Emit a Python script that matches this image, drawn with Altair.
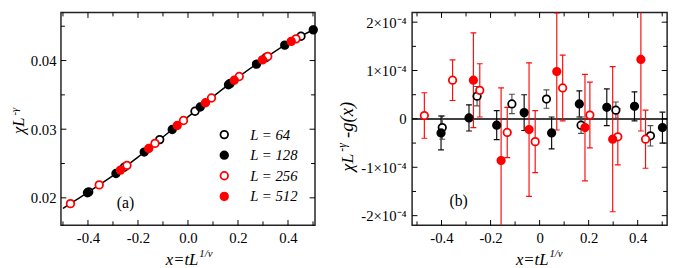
import altair as alt
import pandas as pd

FONT = "Liberation Serif"
RED = "#ff0000"

# ---------------- data ----------------
sizes = ["64", "128", "256", "512"]

# fitted scaling curve g(x), panel (a)
curve_x = [-0.5, -0.4, -0.3, -0.2, -0.1, 0.0, 0.1, 0.2, 0.3, 0.4, 0.5]
curve_y = [0.01845, 0.02080, 0.02323, 0.02593, 0.02887, 0.03180,
           0.03473, 0.03755, 0.04015, 0.04255, 0.04445]

# x = t L^(1/nu) for each system size
x64 = [-0.397, -0.255, -0.113, 0.028, 0.169, 0.311, 0.452]
x128 = [-0.402, -0.288, -0.175, -0.063, 0.049, 0.162, 0.274, 0.387, 0.501]
x256 = [-0.470, -0.355, -0.244, -0.132, -0.018, 0.094, 0.205, 0.319, 0.432]
x512 = [-0.270, -0.157, -0.043, 0.070, 0.185, 0.298, 0.413]

# chi L^-gamma, panel (a)
y64 = [0.02087, 0.02445, 0.02849, 0.03262, 0.03668, 0.04041, 0.04354]
y128 = [0.02075, 0.02355, 0.02667, 0.02995, 0.03324, 0.03648, 0.03947, 0.04224, 0.04447]
y256 = [0.01916, 0.02189, 0.02474, 0.02793, 0.03127, 0.03455, 0.03768, 0.04060, 0.04316]
y512 = [0.02404, 0.02719, 0.03054, 0.03385, 0.03713, 0.04010, 0.04280]

# residuals chi L^-gamma - g(x) and their errors, panel (b), in units of 1e-4
r64 = [-0.18, 0.47, 0.31, 0.41, -0.13, 0.18, -0.35]
e64 = [0.24, 0.20, 0.20, 0.19, 0.17, 0.17, 0.21]
r128 = [-0.29, 0.02, -0.13, 0.13, -0.29, 0.31, 0.24, 0.26, -0.18]
e128 = [0.35, 0.27, 0.30, 0.37, 0.33, 0.27, 0.38, 0.30, 0.32]
r256 = [0.07, 0.80, 0.59, -0.28, -0.47, 0.64, 0.08, -0.37, -0.42]
e256 = [0.47, 0.42, 0.55, 0.52, 0.64, 0.68, 0.68, 0.58, 0.60]
r512 = [0.80, -0.86, -0.22, 0.98, -0.18, -0.42, 1.23]
e512 = [0.98, 1.50, 1.38, 1.21, 1.10, 1.50, 1.48]

# tick values
x_major = [-0.4, -0.2, 0.0, 0.2, 0.4]
x_minor = [-0.5, -0.3, -0.1, 0.1, 0.3, 0.5]
ya_major = [0.02, 0.03, 0.04]
ya_minor = [0.025, 0.035, 0.045]
yb_major = [-2, -1, 0, 1, 2]
yb_minor = [-1.5, -0.5, 0.5, 1.5]

# ---------------- tables ----------------
rows = []
for L, xs, ys, rs, es in [("64", x64, y64, r64, e64), ("128", x128, y128, r128, e128),
                          ("256", x256, y256, r256, e256), ("512", x512, y512, r512, e512)]:
    for xv, yv, rv, ev in zip(xs, ys, rs, es):
        rows.append({"L": L, "x": xv, "y": yv, "r": rv, "lo": rv - ev, "hi": rv + ev})
pts = pd.DataFrame(rows)
curve = pd.DataFrame({"x": curve_x, "y": curve_y})

W_A, W_B, H = 259, 260, 217

xs_a = alt.Scale(domain=[-0.508, 0.508], nice=False, zero=False)
ys_a = alt.Scale(domain=[0.016, 0.047], nice=False, zero=False)
xs_b = alt.Scale(domain=[-0.52, 0.52], nice=False, zero=False)
ys_b = alt.Scale(domain=[-2.2, 2.2], nice=False, zero=False)

stroke_scale = alt.Scale(domain=sizes, range=["black", "black", RED, RED])
fill_scale = alt.Scale(domain=sizes, range=["white", "black", "white", RED])
bar_scale = alt.Scale(domain=sizes, range=["#4a4a4a", "#000000", RED, RED])

lab = dict(labelFont=FONT, labelFontSize=15, labelColor="black", ticks=False,
           domain=False, grid=False, title=None)

x_axis_a = alt.Axis(values=x_major, labelPadding=6,
                    labelExpr="datum.value < 0 ? '-' + format(-datum.value, '.1f') : format(datum.value, '.1f')",
                    **lab)
y_axis_a = alt.Axis(values=ya_major, labelPadding=5, format=".2f", **lab)
x_axis_b = alt.Axis(values=x_major, labelPadding=6,
                    labelExpr="abs(datum.value) < 1e-9 ? '0' : (datum.value < 0 ? '-' + format(-datum.value, '.1f') : format(datum.value, '.1f'))",
                    **lab)
y_axis_b = alt.Axis(values=yb_major, labelPadding=6,
                    labelExpr="abs(datum.value) < 1e-9 ? '0' : (datum.value < 0 ? '-' : '') + format(abs(datum.value), 'd') + '×10⁻⁴'",
                    **lab)

legend = alt.Legend(title=None, orient="none", legendX=159, legendY=117, padding=0,
                    rowPadding=5, symbolType="circle", symbolSize=60, symbolStrokeWidth=1.8,
                    labelOffset=19, labelFont=FONT, labelFontSize=15, labelFontStyle="italic",
                    labelColor="black", labelExpr="'L = ' + datum.label")


def frame_ticks(xscale, yscale, xaxis, yaxis, xmaj, xmin, ymaj, ymin, w, h):
    layers = []
    for vals, ln in [(xmaj, 5.5), (xmin, 4)]:
        base = alt.Chart(pd.DataFrame({"v": vals})).mark_rule(color="black", strokeWidth=1)
        xx = alt.X("v:Q", scale=xscale, axis=xaxis)
        layers.append(base.encode(x=xx, y=alt.value(h), y2=alt.value(h - ln)))
        layers.append(base.encode(x=xx, y=alt.value(0), y2=alt.value(ln)))
    for vals, ln in [(ymaj, 5.5), (ymin, 4)]:
        base = alt.Chart(pd.DataFrame({"v": vals})).mark_rule(color="black", strokeWidth=1)
        yy = alt.Y("v:Q", scale=yscale, axis=yaxis)
        layers.append(base.encode(y=yy, x=alt.value(0), x2=alt.value(ln)))
        layers.append(base.encode(y=yy, x=alt.value(w), x2=alt.value(w - ln)))
    return layers


def txt(s, x, y, size, style="italic", angle=0, align="left"):
    return alt.Chart(pd.DataFrame({"a": [0]})).mark_text(
        text=s, font=FONT, fontSize=size, fontStyle=style, angle=angle, align=align,
        baseline="alphabetic", color="black").encode(x=alt.value(x), y=alt.value(y))


# ---------------- panel (a) ----------------
XA = lambda f: alt.X(f, scale=xs_a, axis=x_axis_a)
YA = lambda f: alt.Y(f, scale=ys_a, axis=y_axis_a)
line_a = alt.Chart(curve).mark_line(color="black", strokeWidth=1.5, interpolate="monotone").encode(
    x=XA("x:Q"), y=YA("y:Q"))
pts_a = alt.Chart(pts).mark_point(shape="circle", size=60, strokeWidth=1.8, opacity=1).encode(
    x=XA("x:Q"), y=YA("y:Q"),
    stroke=alt.Stroke("L:N", scale=stroke_scale, legend=legend),
    fill=alt.Fill("L:N", scale=fill_scale, legend=legend),
)
lab_a = alt.Chart(pd.DataFrame({"a": [0]})).mark_text(
    text="(a)", font=FONT, fontSize=16, color="black", align="center", baseline="middle"
).encode(x=alt.datum(-0.25, scale=xs_a, axis=x_axis_a), y=alt.datum(0.0192, scale=ys_a, axis=y_axis_a))

panel_a = alt.layer(
    *frame_ticks(xs_a, ys_a, x_axis_a, y_axis_a, x_major, x_minor, ya_major, ya_minor, W_A, H),
    line_a, pts_a, lab_a,
    txt("χL", -38, 124, 17, angle=270),
    txt("-γ", -44, 105, 11, angle=270),
    txt("x=tL", 140, 257, 17, align="right"),
    txt("1/ν", 141, 249, 11),
).properties(width=W_A, height=H)

# ---------------- panel (b) ----------------
XB = lambda f: alt.X(f, scale=xs_b, axis=x_axis_b)
YB = lambda f: alt.Y(f, scale=ys_b, axis=y_axis_b)
zero = alt.Chart(pd.DataFrame({"z": [0]})).mark_rule(color="black", strokeWidth=1.5).encode(
    y=YB("z:Q"))
bars = alt.Chart(pts).mark_rule(strokeWidth=1.2, clip=True, opacity=0.95).encode(
    x=XB("x:Q"), y=YB("lo:Q"), y2="hi:Q",
    color=alt.Color("L:N", scale=bar_scale, legend=None),
)
cap_lo = alt.Chart(pts).mark_tick(orient="horizontal", size=6, thickness=1.2, clip=True, opacity=0.95).encode(
    x=XB("x:Q"), y=YB("lo:Q"),
    color=alt.Color("L:N", scale=bar_scale, legend=None),
)
cap_hi = alt.Chart(pts).mark_tick(orient="horizontal", size=6, thickness=1.2, clip=True, opacity=0.95).encode(
    x=XB("x:Q"), y=YB("hi:Q"),
    color=alt.Color("L:N", scale=bar_scale, legend=None),
)
pts_b = alt.Chart(pts).mark_point(shape="circle", size=58, strokeWidth=1.8, opacity=1).encode(
    x=XB("x:Q"), y=YB("r:Q"),
    stroke=alt.Stroke("L:N", scale=stroke_scale, legend=None),
    fill=alt.Fill("L:N", scale=fill_scale, legend=None),
)
lab_b = alt.Chart(pd.DataFrame({"a": [0]})).mark_text(
    text="(b)", font=FONT, fontSize=16, color="black", align="center", baseline="middle"
).encode(x=alt.datum(-0.33, scale=xs_b, axis=x_axis_b), y=alt.datum(-1.70, scale=ys_b, axis=y_axis_b))

panel_b = alt.layer(
    *frame_ticks(xs_b, ys_b, x_axis_b, y_axis_b, x_major, x_minor, yb_major, yb_minor, W_B, H),
    zero, bars, cap_lo, cap_hi, pts_b, lab_b,
    txt("χL", -60, 162, 18, angle=270),
    txt("-γ", -67, 142, 12, angle=270),
    txt("-g(x)", -60, 128, 19, angle=270),
    txt("x=tL", 139, 257, 17, align="right"),
    txt("1/ν", 140, 249, 11),
).properties(width=W_B, height=H)

chart = alt.hconcat(panel_a, panel_b, spacing=99, bounds="flush").properties(
    padding={"left": 0, "top": 0, "right": 2, "bottom": 0}
).configure_view(stroke="#222222", strokeWidth=1.5)

chart.save("out.html", embed_options={"renderer": "svg", "actions": False})
